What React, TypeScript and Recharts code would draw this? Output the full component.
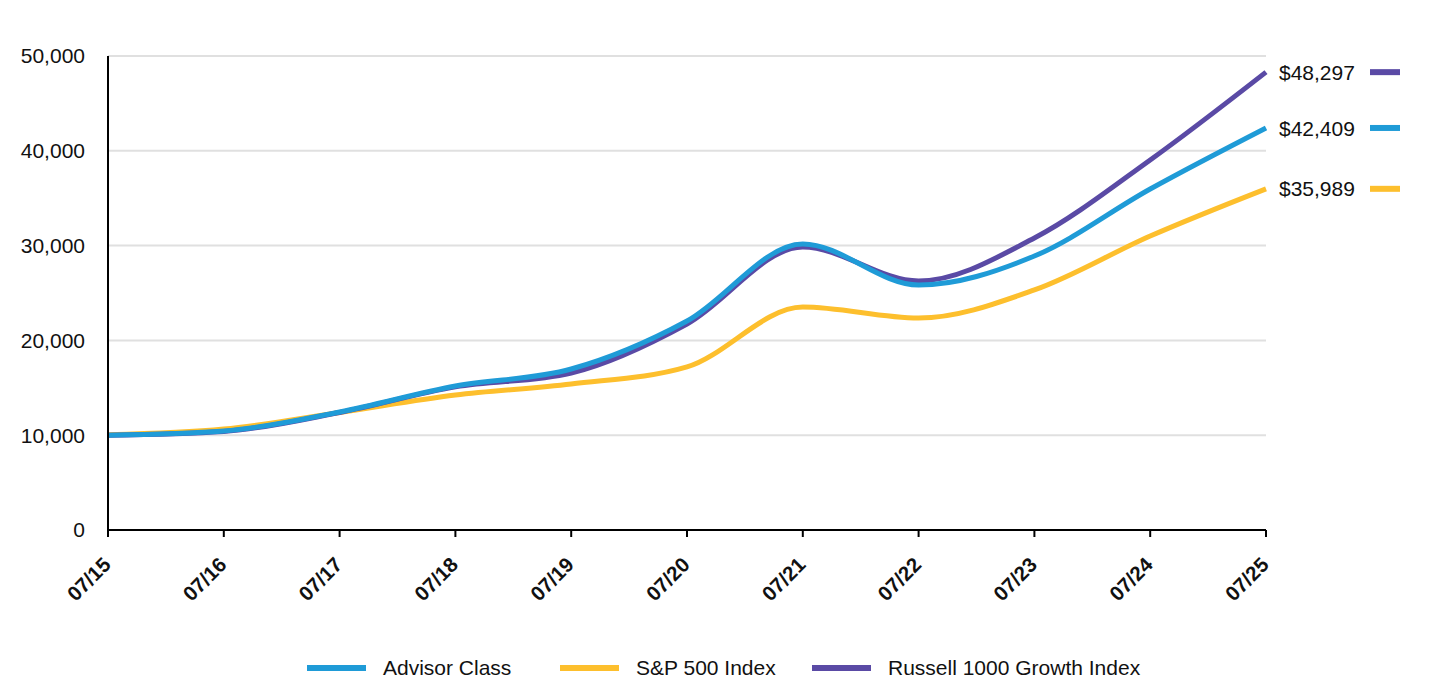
import React from "react";
import { LineChart, Line, XAxis, YAxis, CartesianGrid, LabelList } from "recharts";

const categories = ["07/15", "07/16", "07/17", "07/18", "07/19", "07/20", "07/21", "07/22", "07/23", "07/24", "07/25"];
const advisorClass = [10000, 10440, 12450, 15190, 16980, 22050, 30170, 25840, 28900, 35970, 42409];
const sp500 = [10050, 10650, 12400, 14240, 15400, 17200, 23520, 22360, 25320, 31010, 35989];
const russell = [10000, 10400, 12400, 15100, 16560, 21730, 29850, 26270, 30800, 39030, 48297];
const yTicks = [0, 10000, 20000, 30000, 40000, 50000];
const endLabels = ["$42,409", "$35,989", "$48,297"];

const BLUE = "#1f9bd7";
const YELLOW = "#fdbf2d";
const PURPLE = "#5a4aa5";

const data = categories.map((c, i) => ({
  date: c,
  advisor: advisorClass[i],
  sp: sp500[i],
  russell: russell[i],
}));

const FONT = "'Liberation Sans', Arial, sans-serif";
const last = categories.length - 1;

const makeEndLabel = (text: string, color: string) => (props: any) => {
  const { x, y, index } = props;
  if (index !== last) return null;
  return (
    <g>
      <text x={x + 13} y={y} dy="0.36em" fontSize={21} fontFamily={FONT} fill="#111">
        {text}
      </text>
      <line x1={x + 104} x2={x + 134} y1={y} y2={y} stroke={color} strokeWidth={6} />
    </g>
  );
};

const XTick = (props: any) => {
  const { x, y, payload } = props;
  const ax = x + 4;
  const ay = y + 27;
  return (
    <text
      x={ax}
      y={ay}
      transform={`rotate(-45, ${ax}, ${ay})`}
      textAnchor="end"
      fontSize={20.5}
      fontWeight="bold"
      fontFamily={FONT}
      fill="#111"
    >
      {payload.value}
    </text>
  );
};

const legendItems = [
  { label: "Advisor Class", color: BLUE, left: 299 },
  { label: "S&P 500 Index", color: YELLOW, left: 552 },
  { label: "Russell 1000 Growth Index", color: PURPLE, left: 804 },
];

export default function App() {
  return (
    <div style={{ width: 1424, fontFamily: FONT }}>
      <LineChart
        width={1424}
        height={600}
        data={data}
        margin={{ top: 48, right: 166, left: 0, bottom: 18 }}
      >
        <CartesianGrid vertical={false} stroke="#e0e0e0" strokeWidth={2} />
        <XAxis
          dataKey="date"
          interval={0}
          height={60}
          tick={<XTick />}
          tickSize={7}
          tickLine={{ stroke: "#000", strokeWidth: 2 }}
          axisLine={{ stroke: "#000", strokeWidth: 2 }}
          padding={{ left: 0, right: 0 }}
        />
        <YAxis
          width={100}
          domain={[0, 50000]}
          ticks={yTicks}
          interval={0}
          tickLine={false}
          tickMargin={17}
          axisLine={{ stroke: "#000", strokeWidth: 2 }}
          tickFormatter={(v: number) => v.toLocaleString("en-US")}
          tick={{ fontSize: 21, fill: "#111", fontFamily: FONT }}
        />
        <Line type="monotone" dataKey="sp" stroke={YELLOW} strokeWidth={5} dot={false} isAnimationActive={false}>
          <LabelList dataKey="sp" content={makeEndLabel(endLabels[1], YELLOW)} />
        </Line>
        <Line type="monotone" dataKey="russell" stroke={PURPLE} strokeWidth={5} dot={false} isAnimationActive={false}>
          <LabelList dataKey="russell" content={makeEndLabel(endLabels[2], PURPLE)} />
        </Line>
        <Line type="monotone" dataKey="advisor" stroke={BLUE} strokeWidth={5} dot={false} isAnimationActive={false}>
          <LabelList dataKey="advisor" content={makeEndLabel(endLabels[0], BLUE)} />
        </Line>
      </LineChart>
      <div style={{ marginTop: 48, height: 24, position: "relative" }}>
        {legendItems.map((it) => (
          <div
            key={it.label}
            style={{ position: "absolute", left: it.left, top: 0, height: 24, display: "flex", alignItems: "center" }}
          >
            <div style={{ width: 59, height: 6, background: it.color, marginRight: 17 }} />
            <span style={{ fontSize: 21, color: "#111", lineHeight: "24px", whiteSpace: "nowrap" }}>{it.label}</span>
          </div>
        ))}
      </div>
    </div>
  );
}
